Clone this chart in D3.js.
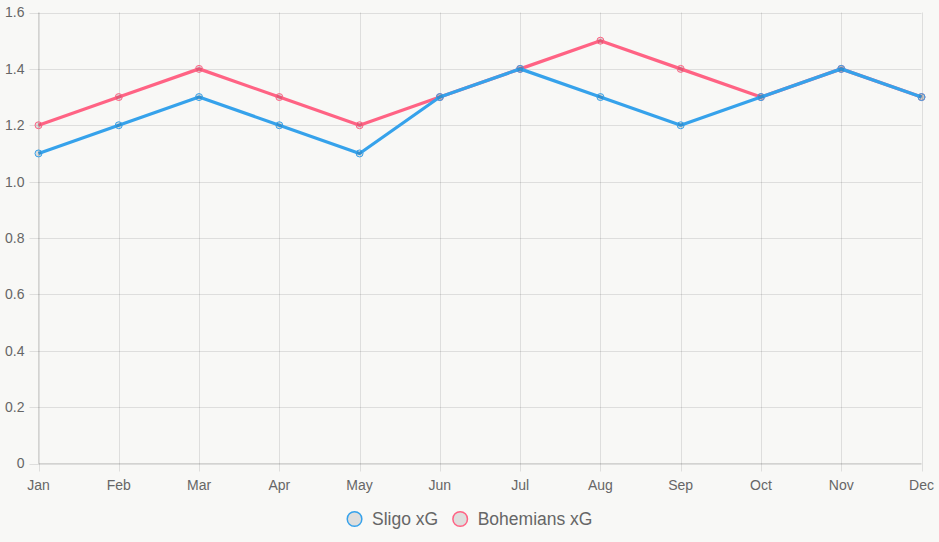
<!DOCTYPE html>
<html>
<head>
<meta charset="utf-8">
<script src="https://cdn.jsdelivr.net/npm/d3@7"></script>
<style>
  html, body { margin: 0; padding: 0; background: #f8f8f6; }
  svg { display: block; font-family: "Liberation Sans", Arial, sans-serif; }
</style>
</head>
<body>
<svg id="chart" width="939" height="542"></svg>
<script>
const months = ['Jan', 'Feb', 'Mar', 'Apr', 'May', 'Jun', 'Jul', 'Aug', 'Sep', 'Oct', 'Nov', 'Dec'];
const sligoXG = [1.1, 1.2, 1.3, 1.2, 1.1, 1.3, 1.4, 1.3, 1.2, 1.3, 1.4, 1.3];
const bohemiansXG = [1.2, 1.3, 1.4, 1.3, 1.2, 1.3, 1.4, 1.5, 1.4, 1.3, 1.4, 1.3];
const yTicks = [0, 0.2, 0.4, 0.6, 0.8, 1.0, 1.2, 1.4, 1.6];

const series = [
  { name: 'Sligo xG', values: sligoXG, color: '#36a2eb' },
  { name: 'Bohemians xG', values: bohemiansXG, color: '#ff6384' }
];

const svg = d3.select('#chart');
const W = 939;
const plotL = 38.5, plotR = 921.5, plotT = 12.5, plotB = 463.5;

const x = d3.scalePoint().domain(months).range([plotL, plotR]);
const y = d3.scaleLinear().domain([0, 1.6]).range([plotB, plotT]);

const grid = 'rgba(0,0,0,0.1)';

// grid lines
svg.append('g').selectAll('line').data(yTicks).enter().append('line')
  .attr('x1', plotL - 9).attr('x2', plotR)
  .attr('y1', d => Math.round(y(d)) + 0.5).attr('y2', d => Math.round(y(d)) + 0.5)
  .attr('stroke', grid);

svg.append('g').selectAll('line').data(months).enter().append('line')
  .attr('x1', d => Math.round(x(d)) + 0.5).attr('x2', d => Math.round(x(d)) + 0.5)
  .attr('y1', plotT).attr('y2', plotB + 8)
  .attr('stroke', grid);

// axis lines a touch darker
svg.append('line').attr('x1', plotL).attr('x2', plotR).attr('y1', plotB).attr('y2', plotB)
  .attr('stroke', 'rgba(0,0,0,0.15)');
svg.append('line').attr('x1', plotL).attr('x2', plotL).attr('y1', plotT).attr('y2', plotB)
  .attr('stroke', 'rgba(0,0,0,0.15)');

// tick labels
svg.append('g').selectAll('text').data(yTicks).enter().append('text')
  .attr('x', plotL - 14).attr('y', d => y(d))
  .attr('dy', '0.35em').attr('text-anchor', 'end')
  .attr('font-size', 14).attr('fill', '#666')
  .text(d => d === 0 ? '0' : d.toFixed(1));

svg.append('g').selectAll('text').data(months).enter().append('text')
  .attr('x', d => x(d)).attr('y', plotB + 22)
  .attr('dy', '0.35em').attr('text-anchor', 'middle')
  .attr('font-size', 14).attr('fill', '#666')
  .text(d => d);

// lines, drawn last-first so the first series sits on top
const line = d3.line().x((d, i) => x(months[i])).y(d => y(d));
series.slice().reverse().forEach(s => {
  const g = svg.append('g');
  g.append('path').datum(s.values)
    .attr('d', line).attr('fill', 'none')
    .attr('stroke', s.color).attr('stroke-width', 3.2)
    .attr('stroke-linejoin', 'round');
  g.selectAll('circle').data(s.values).enter().append('circle')
    .attr('cx', (d, i) => x(months[i])).attr('cy', d => y(d)).attr('r', 3.5)
    .attr('fill', 'rgba(0,0,0,0.1)')
    .attr('stroke', s.color).attr('stroke-width', 1);
});

// legend
const legend = svg.append('g');
let cursor = 0;
series.forEach(s => {
  const it = legend.append('g');
  it.append('circle').attr('cx', 8).attr('cy', 0).attr('r', 7.3)
    .attr('fill', 'rgba(0,0,0,0.1)').attr('stroke', s.color).attr('stroke-width', 1.5);
  const t = it.append('text').attr('x', 25.5).attr('dy', '0.35em')
    .attr('font-size', 17.5).attr('fill', '#666').text(s.name);
  const w = 25.5 + t.node().getComputedTextLength();
  it.attr('transform', `translate(${cursor},519)`);
  cursor += w + 14;
});
const totalW = cursor - 14;
legend.attr('transform', `translate(${W / 2 - totalW / 2},0)`);
</script>
</body>
</html>
